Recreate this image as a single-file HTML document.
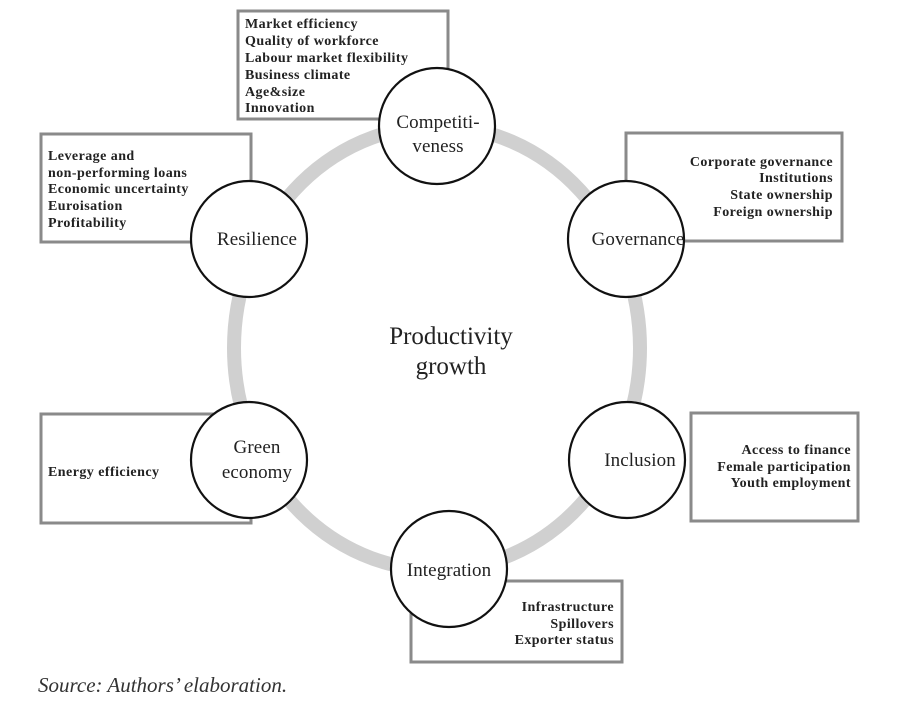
<!DOCTYPE html>
<html><head><meta charset="utf-8"><style>
html,body{margin:0;padding:0;background:#fff;width:900px;height:710px;overflow:hidden}
svg text{font-family:"Liberation Serif",serif;fill:#222}
.b{font-weight:bold;font-size:14px;letter-spacing:0.45px}
.n{font-size:19px;letter-spacing:0.1px}
</style></head><body>
<svg width="900" height="710" viewBox="0 0 900 710" xmlns="http://www.w3.org/2000/svg">
<ellipse cx="437" cy="348" rx="203" ry="222" fill="none" stroke="#d0d0d0" stroke-width="14"/>
<g fill="#fff" stroke="#8a8a8a" stroke-width="3">
<rect x="238" y="11" width="210" height="108"/>
<rect x="41" y="134" width="210" height="108"/>
<rect x="626" y="133" width="216" height="108"/>
<rect x="41" y="414" width="210" height="109"/>
<rect x="691" y="413" width="167" height="108"/>
<rect x="411" y="581" width="211" height="81"/>
</g>
<g class="b">
<text x="245" y="28">Market efficiency</text>
<text x="245" y="45">Quality of workforce</text>
<text x="245" y="62">Labour market flexibility</text>
<text x="245" y="79">Business climate</text>
<text x="245" y="96">Age&amp;size</text>
<text x="245" y="112">Innovation</text>
<text x="48" y="160">Leverage and</text>
<text x="48" y="177">non-performing loans</text>
<text x="48" y="193">Economic uncertainty</text>
<text x="48" y="210">Euroisation</text>
<text x="48" y="227">Profitability</text>
<g text-anchor="end">
<text x="833" y="166">Corporate governance</text>
<text x="833" y="182">Institutions</text>
<text x="833" y="199">State ownership</text>
<text x="833" y="216">Foreign ownership</text>
<text x="851" y="454">Access to finance</text>
<text x="851" y="471">Female participation</text>
<text x="851" y="487">Youth employment</text>
<text x="614" y="611">Infrastructure</text>
<text x="614" y="628">Spillovers</text>
<text x="614" y="644">Exporter status</text>
</g>
<text x="48" y="476">Energy efficiency</text>
</g>
<g fill="#fff" stroke="#111" stroke-width="2.2">
<circle cx="437" cy="126" r="58"/>
<circle cx="249" cy="239" r="58"/>
<circle cx="626" cy="239" r="58"/>
<circle cx="249" cy="460" r="58"/>
<circle cx="627" cy="460" r="58"/>
<circle cx="449" cy="569" r="58"/>
</g>
<g class="n" text-anchor="middle">
<text x="438" y="128">Competiti-</text>
<text x="438" y="152">veness</text>
<text x="257" y="245">Resilience</text>
<text x="638" y="245">Governance</text>
<text x="257" y="453">Green</text>
<text x="257" y="478">economy</text>
<text x="640" y="466">Inclusion</text>
<text x="449" y="576">Integration</text>
</g>
<text x="451" y="344" text-anchor="middle" style="font-size:25px">Productivity</text>
<text x="451" y="374" text-anchor="middle" style="font-size:25px">growth</text>
<text x="38" y="692" style="font-size:21px;font-style:italic;fill:#333">Source: Authors’ elaboration.</text>
</svg>
</body></html>
